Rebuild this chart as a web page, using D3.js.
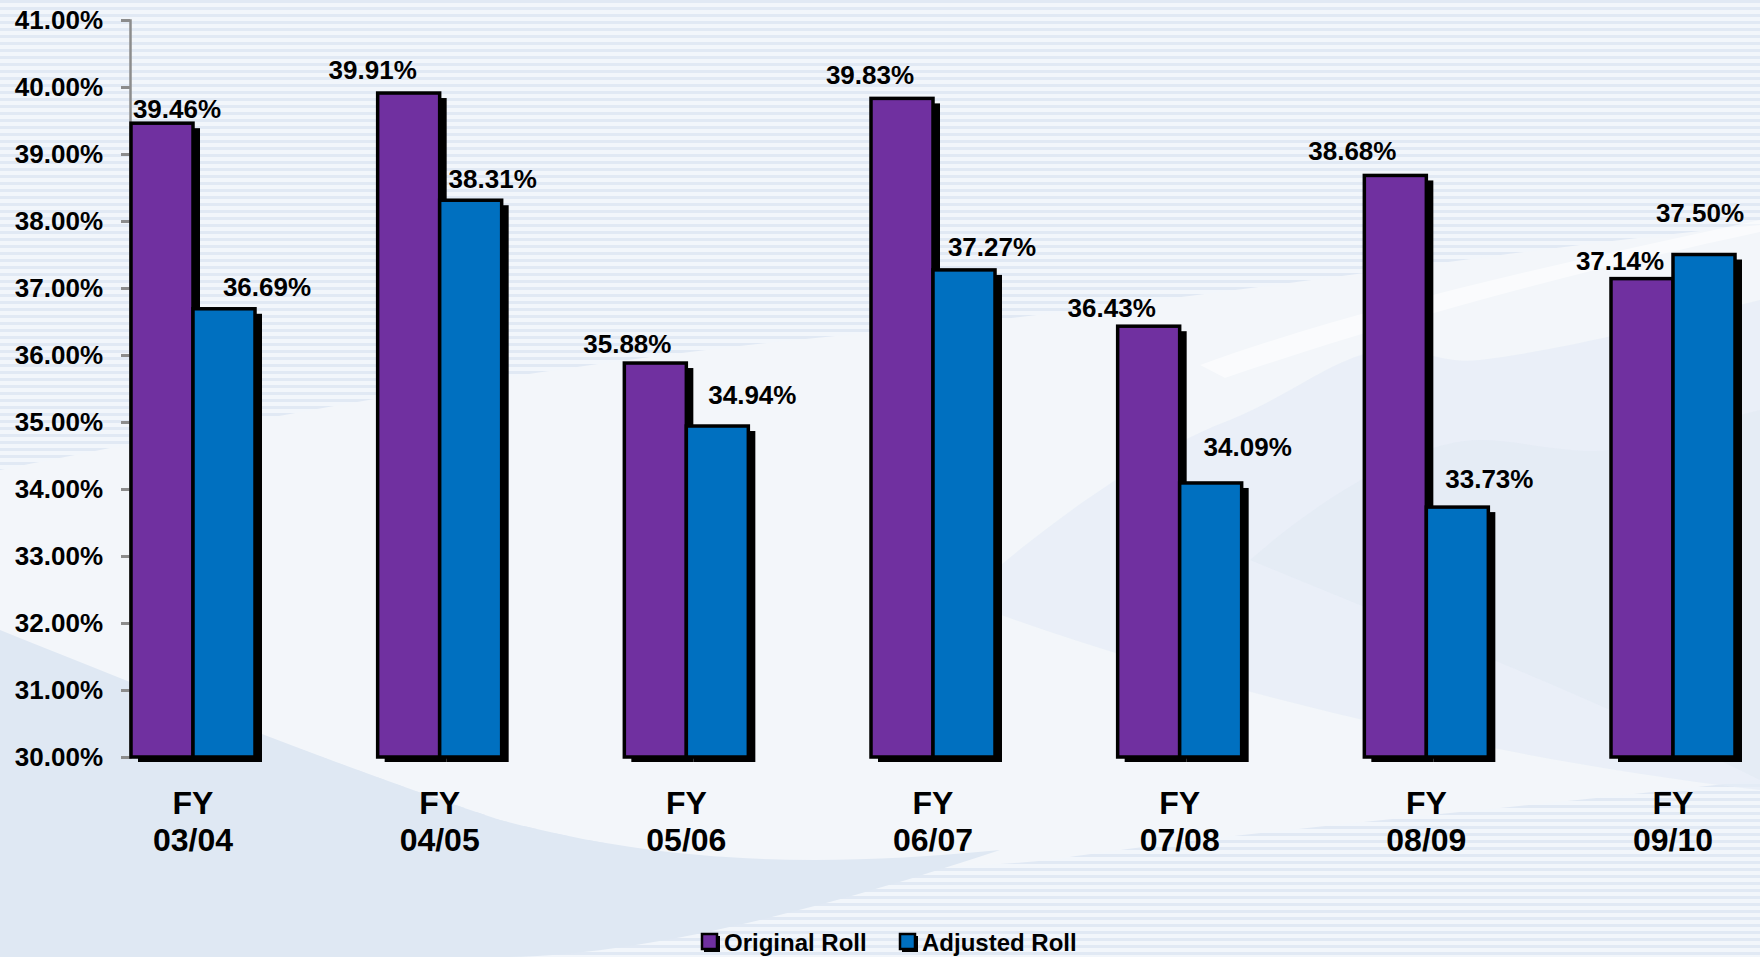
<!DOCTYPE html>
<html>
<head>
<meta charset="utf-8">
<script src="https://cdn.jsdelivr.net/npm/d3@7/dist/d3.min.js"></script>
<style>
  html, body { margin: 0; padding: 0; background: #eef3f9; }
  svg { display: block; font-family: "Liberation Sans", Arial, sans-serif; font-weight: bold; }
</style>
</head>
<body>
<svg id="chart" width="1760" height="957"></svg>
<script>
// ---- data ----
const categories = ["03/04", "04/05", "05/06", "06/07", "07/08", "08/09", "09/10"];
const categoryPrefix = "FY";
const seriesNames = ["Original Roll", "Adjusted Roll"];
const originalRoll = [39.46, 39.91, 35.88, 39.83, 36.43, 38.68, 37.14];
const adjustedRoll = [36.69, 38.31, 34.94, 37.27, 34.09, 33.73, 37.50];
const yTicks = [30, 31, 32, 33, 34, 35, 36, 37, 38, 39, 40, 41];

// ---- layout (label nudges, px) ----
const labelDxOrig = [15, -36, -28, -32, -37, -43, -22];
const labelDyOrig = [14, 23, 19, 23, 18, 24, 18];
const labelDxAdj  = [43, 22, 35, 28, 37, 32, -4];
const labelDyAdj  = [22, 21, 31, 23, 36, 28, 42];
const colors = ["#7030a0", "#0070c0"];

const W = 1760, H = 957;
const svg = d3.select("#chart");

// ---- background ----
const defs = svg.append("defs");
const pat = defs.append("pattern").attr("id", "stripes").attr("width", 8).attr("height", 7)
  .attr("patternUnits", "userSpaceOnUse");
pat.append("rect").attr("width", 8).attr("height", 7).attr("fill", "#f2f6fb");
pat.append("rect").attr("y", 0).attr("width", 8).attr("height", 3).attr("fill", "#e1e9f4");

svg.append("rect").attr("width", W).attr("height", H).attr("fill", "url(#stripes)");

// lighter smooth band through the middle
svg.append("path")
  .attr("d", "M0,470 C250,420 550,360 900,330 C1200,300 1500,250 1760,225 L1760,780 C1500,810 1250,830 1050,860 C850,880 650,860 500,820 C320,760 150,690 0,640 Z")
  .attr("fill", "#f3f6fa");
// faint mountain silhouettes on the right
svg.append("path")
  .attr("d", "M960,600 C1050,520 1150,450 1230,420 C1300,390 1330,360 1380,350 C1420,345 1440,365 1480,360 C1560,350 1640,330 1760,300 L1760,790 C1500,760 1200,690 960,600 Z")
  .attr("fill", "#e5edf6").attr("opacity", 0.7);
svg.append("path")
  .attr("d", "M1250,560 C1330,490 1420,440 1480,440 C1540,440 1600,470 1680,430 L1760,410 L1760,780 C1600,700 1420,630 1250,560 Z")
  .attr("fill", "#e1e9f3").attr("opacity", 0.6);
// darker wedge lower-left
svg.append("path")
  .attr("d", "M0,630 C150,690 320,760 500,820 C650,860 800,870 1000,850 C850,900 650,957 500,957 L0,957 Z")
  .attr("fill", "#dfe8f3");
// faint white diagonal streak on the right
svg.append("path")
  .attr("d", "M1200,365 C1350,310 1550,265 1760,220 L1760,232 C1560,275 1380,325 1225,378 Z")
  .attr("fill", "#ffffff").attr("opacity", 0.55);

// ---- scales ----
const y = d3.scaleLinear().domain([30, 41]).range([757, 20]);
const x = d3.scalePoint().domain(categories).range([193, 1673]);
const barW = 62;
const shadowDx = 7, shadowDy = 5;

// ---- y axis ----
const yAxis = d3.axisLeft(y).tickValues(yTicks).tickSize(9).tickPadding(18)
  .tickFormat(d => d3.format(".2f")(d) + "%");
const gy = svg.append("g").attr("transform", "translate(130,0)").call(yAxis);
gy.select(".domain").attr("stroke", "#8c8c8c").attr("stroke-width", 2.5);
gy.selectAll(".tick line").attr("stroke", "#8c8c8c").attr("stroke-width", 3);
gy.selectAll(".tick text").attr("fill", "#000").attr("font-size", 26)
  .attr("font-family", "'Liberation Sans', Arial, sans-serif").attr("font-weight", "bold");

// ---- bars ----
const series = [originalRoll, adjustedRoll];
series.forEach((vals, si) => {
  const g = svg.append("g");
  const data = categories.map((c, i) => ({ c, v: vals[i], i }));
  const xLeft = d => x(d.c) + (si === 0 ? -barW : 0);
  g.selectAll("rect.shadow").data(data).join("rect").attr("class", "shadow")
    .attr("x", d => xLeft(d) + shadowDx).attr("y", d => y(d.v) + shadowDy)
    .attr("width", barW).attr("height", d => y(30) - y(d.v))
    .attr("fill", "#000");
});
series.forEach((vals, si) => {
  const g = svg.append("g");
  const data = categories.map((c, i) => ({ c, v: vals[i], i }));
  const xLeft = d => x(d.c) + (si === 0 ? -barW : 0);
  g.selectAll("rect.bar").data(data).join("rect").attr("class", "bar")
    .attr("x", d => xLeft(d)).attr("y", d => y(d.v))
    .attr("width", barW).attr("height", d => y(30) - y(d.v))
    .attr("fill", colors[si]).attr("stroke", "#000").attr("stroke-width", 3.5);
});

// ---- data labels ----
series.forEach((vals, si) => {
  const dxs = si === 0 ? labelDxOrig : labelDxAdj;
  const dys = si === 0 ? labelDyOrig : labelDyAdj;
  svg.append("g").selectAll("text").data(vals).join("text")
    .attr("x", (v, i) => x(categories[i]) + (si === 0 ? -barW / 2 : barW / 2) + dxs[i])
    .attr("y", (v, i) => y(v) - dys[i])
    .attr("text-anchor", "middle").attr("dominant-baseline", "central")
    .attr("font-size", 26).attr("fill", "#000")
    .text(v => d3.format(".2f")(v) + "%");
});

// ---- category labels ----
const gx = svg.append("g");
gx.selectAll("text.fy").data(categories).join("text").attr("class", "fy")
  .attr("x", d => x(d)).attr("y", 803).attr("text-anchor", "middle").attr("dominant-baseline", "central")
  .attr("font-size", 32).attr("fill", "#000").text(categoryPrefix);
gx.selectAll("text.yr").data(categories).join("text").attr("class", "yr")
  .attr("x", d => x(d)).attr("y", 840).attr("text-anchor", "middle").attr("dominant-baseline", "central")
  .attr("font-size", 32).attr("fill", "#000").text(d => d);

// ---- legend ----
const legendX = [702, 900];
const lg = svg.append("g");
seriesNames.forEach((name, i) => {
  lg.append("rect").attr("x", legendX[i] + 2).attr("y", 936).attr("width", 16).attr("height", 16).attr("fill", "#000");
  lg.append("rect").attr("x", legendX[i]).attr("y", 934).attr("width", 15).attr("height", 15)
    .attr("fill", colors[i]).attr("stroke", "#000").attr("stroke-width", 2.5);
  lg.append("text").attr("x", legendX[i] + 22).attr("y", 942).attr("dominant-baseline", "central")
    .attr("font-size", 24).attr("fill", "#000").text(name);
});
</script>
</body>
</html>
